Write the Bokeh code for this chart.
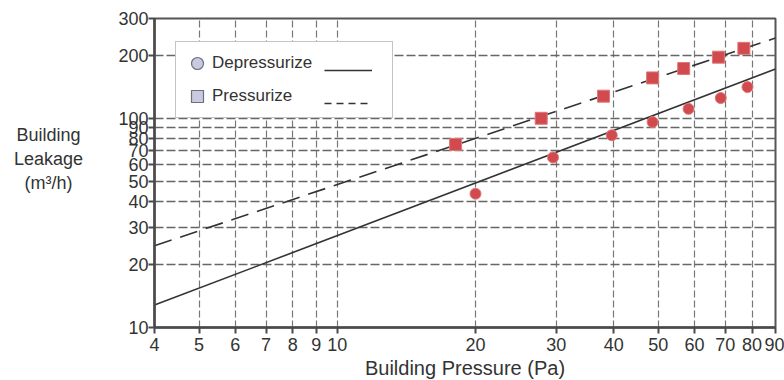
from bokeh.plotting import figure
from bokeh.layouts import row
from bokeh.models import FixedTicker, PrintfTickFormatter, Legend, LegendItem, Label
from bokeh.embed import file_html
from bokeh.resources import INLINE

# ---- data ----
x_ticks = [4, 5, 6, 7, 8, 9, 10, 20, 30, 40, 50, 60, 70, 80, 90]
y_ticks = [10, 20, 30, 40, 50, 60, 70, 80, 90, 100, 200, 300]

dep_x = [20, 29.5, 39.6, 48.6, 58.2, 68.4, 78.2]
dep_y = [43.6, 65, 83, 96, 111, 125, 141]

pres_x = [18.1, 27.8, 38.0, 48.6, 56.8, 67.6, 76.8]
pres_y = [75, 100, 127.6, 156, 173, 196, 216]

fit_x = [4, 90]
dep_fit_y = [12.8, 172]
pres_fit_y = [24.6, 242]

y_title_lines = ["Building", "Leakage", "(m³/h)"]

TXT = "#333333"
FONT = "Liberation Sans"
NAN = [float("nan")]

# ---- side panel holding the horizontal y-axis title ----
side = figure(width=110, height=380, x_range=(0, 1), y_range=(0, 1),
              x_axis_location=None, y_axis_location=None, min_border=0,
              output_backend="svg", toolbar_location=None)
side.outline_line_color = None
side.grid.visible = False
side.background_fill_color = "white"
side.border_fill_color = "white"
for i, t in enumerate(y_title_lines):
    side.add_layout(Label(x=48, y=192 - 24 * i, x_units="screen", y_units="screen", text=t,
                          text_align="center", text_baseline="middle", text_font=FONT,
                          text_font_size="18px", text_color=TXT))

# ---- main chart ----
p = figure(x_axis_type="log", y_axis_type="log", x_range=(4, 90), y_range=(10, 300),
           frame_width=621, frame_height=309,
           min_border_left=44, min_border_right=9, min_border_top=18, min_border_bottom=53,
           output_backend="svg", toolbar_location=None)
p.background_fill_color = "white"
p.border_fill_color = "white"
p.outline_line_color = "#555555"
p.outline_line_width = 2

for ax in (p.xaxis[0], p.yaxis[0]):
    ax.axis_line_color = "#4a4a4a"
    ax.axis_line_width = 2.5
    ax.major_tick_line_color = "#4a4a4a"
    ax.major_tick_line_width = 2
    ax.major_tick_in = 0
    ax.major_tick_out = 6
    ax.minor_tick_in = 0
    ax.minor_tick_out = 0
    ax.formatter = PrintfTickFormatter(format="%d")
    ax.major_label_text_font = FONT
    ax.major_label_text_color = TXT
    ax.major_label_text_font_size = "18px"
    ax.axis_label_text_font = FONT
    ax.axis_label_text_color = TXT
    ax.axis_label_text_font_style = "normal"

p.xaxis.ticker = FixedTicker(ticks=x_ticks)
p.yaxis.ticker = FixedTicker(ticks=y_ticks)

p.xaxis.major_label_standoff = 4
p.xaxis.axis_label = "Building Pressure (Pa)"
p.xaxis.axis_label_text_font_size = "20px"
p.xaxis.axis_label_standoff = 3

p.yaxis.major_label_standoff = 0

# grids
p.xgrid.grid_line_color = "#777777"
p.xgrid.grid_line_width = 1.2
p.xgrid.grid_line_dash = "7 3"
p.ygrid.grid_line_color = "#666666"
p.ygrid.grid_line_width = 1.5
p.ygrid.grid_line_dash = "9 3"

# fitted lines
p.line(fit_x, dep_fit_y, line_color="#333333", line_width=1.6)
p.line(fit_x, pres_fit_y, line_color="#333333", line_width=1.6, line_dash="18 9")

# data points
p.scatter(dep_x, dep_y, marker="circle", size=11, fill_color="#d04a4e",
          line_color="#e07878", line_width=1)
p.scatter(pres_x, pres_y, marker="square", size=12, fill_color="#d04a4e",
          line_color="#e07878", line_width=1)

# legend proxies (not drawn in the plot)
leg_c = p.scatter(NAN, NAN, marker="circle", fill_color="#c9c9df", line_color="#6e6e7e", line_width=1.2)
leg_s = p.scatter(NAN, NAN, marker="square", fill_color="#c9c9df", line_color="#6e6e7e", line_width=1.2)
leg_l1 = p.line(NAN, NAN, line_color="#333333", line_width=1.5)
leg_l2 = p.line(NAN, NAN, line_color="#333333", line_width=1.5, line_dash="7 5")

legA = Legend(items=[LegendItem(label="Depressurize", renderers=[leg_c]),
                     LegendItem(label="Pressurize", renderers=[leg_s])],
              location=(21, 209), padding=6, spacing=3, glyph_width=30, glyph_height=30,
              label_standoff=0, label_width=174, label_text_font=FONT,
              label_text_font_size="17px", label_text_color=TXT,
              border_line_color="#8a8a8a", border_line_width=1.5,
              background_fill_color="white", background_fill_alpha=1.0)
legB = Legend(items=[LegendItem(label=" ", renderers=[leg_l1]),
                     LegendItem(label=" ", renderers=[leg_l2])],
              location=(170, 209), padding=6, spacing=3, glyph_width=48, glyph_height=30,
              label_standoff=0, label_width=0, label_text_font_size="17px",
              border_line_color=None, background_fill_alpha=0.0)
p.add_layout(legA)
p.add_layout(legB)

layout = row(side, p, spacing=0)
open("out.html", "w").write(file_html(layout, INLINE))
